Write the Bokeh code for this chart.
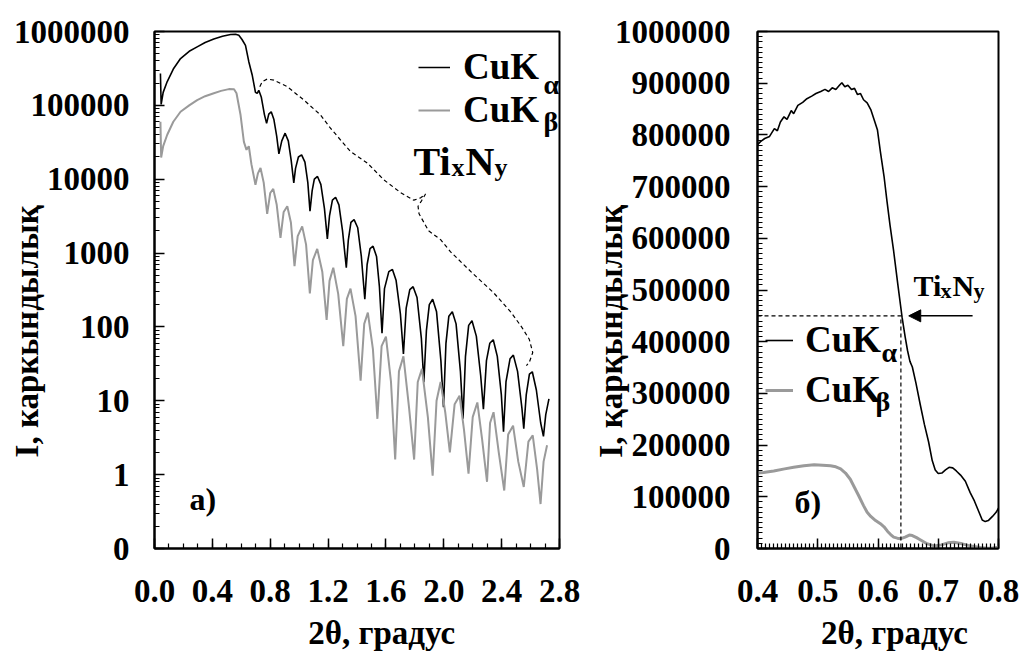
from bokeh.plotting import figure
from bokeh.layouts import row
from bokeh.models import (FixedTicker, SingleIntervalTicker, NumeralTickFormatter, Label,
                          Legend, LegendItem, Arrow, NormalHead)
from bokeh.embed import file_html
from bokeh.resources import INLINE

FONT = "Liberation Serif"
NB = "\u00a0"

# ---------------- left panel data (log scale) ----------------
ka_x = [0.041, 0.046, 0.060, 0.088, 0.13, 0.18, 0.24, 0.295, 0.35, 0.41, 0.47, 0.526, 0.56, 0.583,
        0.605, 0.629, 0.652, 0.675, 0.698, 0.710, 0.721, 0.738, 0.760, 0.775, 0.790, 0.807, 0.825,
        0.845, 0.860, 0.880, 0.903, 0.925, 0.945, 0.963, 0.975, 0.995, 1.017, 1.040, 1.060, 1.075,
        1.090, 1.105, 1.127, 1.150, 1.175, 1.195, 1.210, 1.230, 1.252, 1.275, 1.300, 1.326, 1.340,
        1.358, 1.380, 1.405, 1.430, 1.454, 1.470, 1.490, 1.511, 1.535, 1.555, 1.573, 1.590, 1.620,
        1.645, 1.670, 1.700, 1.721, 1.740, 1.765, 1.788, 1.815, 1.845, 1.862, 1.880, 1.900, 1.923,
        1.950, 1.980, 1.998, 2.015, 2.035, 2.059, 2.085, 2.115, 2.133, 2.150, 2.172, 2.195, 2.225,
        2.255, 2.274, 2.295, 2.318, 2.342, 2.370, 2.398, 2.413, 2.430, 2.458, 2.481, 2.510, 2.540,
        2.553, 2.570, 2.592, 2.612, 2.640, 2.670, 2.689, 2.705, 2.727]
ka_y = [270000, 103000, 150000, 210000, 310000, 430000, 540000, 620000, 710000, 790000, 860000,
        910000, 920000, 890000, 780000, 650000, 390000, 260000, 150000, 145000, 160000, 130000,
        75000, 57000, 76000, 82000, 65000, 38000, 22000, 33000, 42000, 33000, 18000, 8900, 14000,
        20000, 21400, 17000, 9000, 3700, 7000, 10000, 10900, 8500, 4000, 1560, 3200, 5200, 5700,
        4500, 2000, 634, 1500, 2600, 2840, 2200, 900, 237, 700, 1150, 1240, 900, 350, 82, 330,
        560, 601, 430, 150, 43, 180, 320, 351, 250, 70, 17.8, 90, 200, 237, 160, 35, 8.2, 60, 140,
        161, 110, 25, 5.7, 40, 105, 121, 75, 22, 7.7, 35, 60, 67, 40, 12, 3.8, 18, 37, 41.5, 25,
        8, 4.2, 12, 23, 24.7, 14, 5, 3.3, 6.5, 10.6]

kb_x = [0.041, 0.046, 0.060, 0.088, 0.13, 0.18, 0.24, 0.295, 0.35, 0.41, 0.46, 0.514, 0.55, 0.567,
        0.595, 0.618, 0.636, 0.652, 0.670, 0.698, 0.715, 0.733, 0.755, 0.779, 0.800, 0.821, 0.845,
        0.871, 0.893, 0.918, 0.943, 0.968, 0.990, 1.021, 1.048, 1.074, 1.095, 1.125, 1.160, 1.190,
        1.210, 1.236, 1.270, 1.305, 1.330, 1.355, 1.390, 1.425, 1.450, 1.475, 1.510, 1.541, 1.570,
        1.600, 1.635, 1.664, 1.690, 1.721, 1.760, 1.795, 1.820, 1.849, 1.890, 1.923, 1.950, 1.978,
        2.010, 2.042, 2.075, 2.109, 2.140, 2.171, 2.200, 2.232, 2.265, 2.299, 2.320, 2.344, 2.380,
        2.418, 2.445, 2.479, 2.515, 2.553, 2.585, 2.615, 2.645, 2.669, 2.690, 2.714]
kb_y = [60000, 19700, 28000, 40000, 60000, 82000, 100000, 118000, 133000, 146000, 157000, 166000,
        165000, 146000, 74000, 32000, 25000, 28000, 16000, 8400, 12000, 14200, 9000, 3400, 6500,
        7400, 4500, 1600, 3600, 4300, 2600, 665, 1700, 2300, 1300, 285, 800, 1140, 560, 124, 420,
        634, 280, 55, 240, 330, 140, 18.7, 110, 156, 50, 5.7, 55, 74, 18, 1.6, 25, 40, 8, 1.6, 18,
        27, 6, 0.97, 10, 18, 7, 2.0, 9, 11.7, 4, 1.03, 6, 9.5, 3, 0.8, 5, 7, 2, 0.61, 3.5, 4.6,
        1.5, 0.68, 2.8, 3.4, 1.2, 0.4, 1.5, 2.5]

tixny_x = [0.728, 0.745, 0.779, 0.825, 0.918, 1.033, 1.148, 1.217, 1.355, 1.471, 1.586, 1.701,
           1.793, 1.840, 1.874, 1.846, 1.822, 1.829, 1.895, 1.978, 2.047, 2.195, 2.344, 2.467,
           2.541, 2.591, 2.615, 2.591, 2.571]
tixny_y = [179000, 209000, 227000, 220000, 179000, 118000, 74000, 49000, 23700, 16600, 9800, 6600,
           5200, 5600, 6300, 5100, 4300, 3400, 2000, 1520, 1040, 542, 291, 156, 98, 68, 45, 33, 30]

left_yticks = [0.1, 1, 10, 100, 1000, 10000, 100000, 1000000]
left_xticks = [0.0, 0.4, 0.8, 1.2, 1.6, 2.0, 2.4, 2.8]

# ---------------- right panel data (linear scale) ----------------
ra_x = [0.400, 0.405, 0.412, 0.420, 0.428, 0.433, 0.438, 0.444, 0.449, 0.456, 0.460, 0.467, 0.475,
        0.482, 0.490, 0.497, 0.505, 0.512, 0.518, 0.524, 0.530, 0.536, 0.540, 0.545, 0.550, 0.556,
        0.561, 0.566, 0.571, 0.576, 0.582, 0.588, 0.594, 0.599, 0.604, 0.610, 0.615, 0.620, 0.626,
        0.633, 0.640, 0.645, 0.649, 0.653, 0.657, 0.663, 0.670, 0.677, 0.684, 0.690, 0.695, 0.700,
        0.706, 0.712, 0.718, 0.724, 0.730, 0.737, 0.745, 0.753, 0.760, 0.766, 0.773, 0.778, 0.783,
        0.790, 0.796, 0.800]
ra_y = [781000, 787000, 793000, 797000, 812000, 808000, 825000, 835000, 830000, 847000, 841000,
        857000, 863000, 870000, 875000, 880000, 884000, 888000, 884000, 891000, 888000, 896000,
        901000, 893000, 896000, 888000, 890000, 878000, 880000, 868000, 862000, 849000, 828000,
        810000, 767000, 720000, 671000, 625000, 575000, 510000, 447000, 410000, 383000, 362000,
        351000, 320000, 279000, 240000, 206000, 170000, 152000, 145000, 146000, 152000, 157000,
        156000, 150000, 142000, 130000, 108000, 92000, 75000, 55000, 52000, 54000, 62000, 70000,
        78000]
rb_x = [0.400, 0.410, 0.427, 0.445, 0.460, 0.477, 0.494, 0.508, 0.521, 0.530, 0.538, 0.546, 0.554,
        0.561, 0.568, 0.576, 0.582, 0.588, 0.596, 0.604, 0.610, 0.616, 0.621, 0.626, 0.632, 0.638,
        0.645, 0.652, 0.657, 0.664, 0.670, 0.680, 0.693, 0.705, 0.716, 0.726, 0.740, 0.750, 0.759,
        0.770, 0.781, 0.790, 0.800]
rb_y = [146000, 147000, 150000, 154000, 157000, 160000, 162000, 161000, 160000, 158000, 154000,
        146000, 134000, 118000, 102000, 83000, 70000, 62000, 54000, 48000, 42000, 33000, 27000,
        22000, 20000, 19000, 22000, 26000, 25000, 21000, 17000, 10000, 5000, 7000, 11000, 12000,
        9000, 6000, 4000, 2000, 500, 1000, 2500]

ref_x = 0.638      # TixNy position read on the curve
ref_y = 450000
arrow_from = 0.757
arrow_to = 0.651

X_TITLE = "2θ, градус"
LIFT = 10  # px correction for label baseline
BLACK = "black"
GRAY = "#9a9a9a"


def style_axes(p):
    for ax in (p.xaxis[0], p.yaxis[0]):
        ax.axis_line_width = 2
        ax.axis_line_color = "black"
        ax.major_tick_in = 10
        ax.major_tick_out = 0
        ax.minor_tick_in = 5
        ax.minor_tick_out = 0
        ax.major_tick_line_width = 1.5
        ax.minor_tick_line_width = 1.2
        ax.major_tick_line_color = "black"
        ax.minor_tick_line_color = "black"
        ax.major_label_text_font = FONT
        ax.major_label_text_font_style = "bold"
        ax.major_label_text_font_size = "33px"
        ax.major_label_text_color = "black"
        ax.axis_label_text_font = FONT
        ax.axis_label_text_font_style = "bold"
        ax.axis_label_text_font_size = "33px"
        ax.axis_label_text_color = "black"
    p.xgrid.visible = False
    p.ygrid.visible = False
    p.outline_line_color = "black"
    p.outline_line_width = 2
    p.outline_line_alpha = 1


def put(p, x, y, text, size, dx=0, dy=0):
    p.add_layout(Label(x=x, y=y, x_offset=dx, y_offset=dy + LIFT, text=text, text_font=FONT,
                       text_font_style="bold", text_font_size=f"{size}px", text_color="black",
                       text_baseline="alphabetic", text_align="left"))


def make_legend(r1, r2, loc, spacing, gw, standoff):
    return Legend(items=[LegendItem(label="CuK", renderers=[r1]),
                         LegendItem(label="CuK", renderers=[r2])],
                  location=loc, padding=0, margin=0, spacing=spacing, glyph_width=gw,
                  label_standoff=standoff, border_line_alpha=0, background_fill_alpha=0,
                  label_text_font=FONT, label_text_font_style="bold",
                  label_text_font_size="37px", label_text_color="black")


# ---------------- left figure ----------------
p1 = figure(width=588, height=653, x_range=(0, 2.8), y_range=(0.1, 1e6), y_axis_type="log",
            output_backend="svg", toolbar_location=None, min_border_left=154,
            min_border_right=29, min_border_top=31, min_border_bottom=103)
style_axes(p1)
p1.yaxis.ticker = FixedTicker(ticks=left_yticks,
                              minor_ticks=[m * t for t in left_yticks[:-1] for m in range(2, 10)])
p1.yaxis.formatter = NumeralTickFormatter(format="0")
p1.xaxis.ticker = FixedTicker(ticks=left_xticks, minor_ticks=[i / 10 for i in range(29)])
p1.xaxis.formatter = NumeralTickFormatter(format="0.0")
p1.yaxis.major_label_standoff = 25
p1.yaxis.axis_label = "I, каркындылық" + NB * 10
p1.yaxis.axis_label_standoff = -34
p1.xaxis.major_label_standoff = 31
p1.xaxis.axis_label = NB * 6 + X_TITLE
p1.xaxis.axis_label_standoff = 10

ra1 = p1.line(ka_x, ka_y, line_color=BLACK, line_width=1.6)
rb1 = p1.line(kb_x, kb_y, line_color=GRAY, line_width=2)
p1.line(tixny_x, tixny_y, line_color=BLACK, line_width=1.2, line_dash="4 3")

p1.add_layout(make_legend(ra1, rb1, (264, 417), -6, 32, 13))
put(p1, 2.690, 1.77e5, "α", 28, dy=-7)
put(p1, 2.690, 4.96e4, "β", 28, dy=-4)

put(p1, 1.791, 10470, "Ti", 40, dy=6)
put(p1, 1.791, 10470, "x", 26, dx=38, dy=0)
put(p1, 1.791, 10470, "N", 40, dx=52, dy=6)
put(p1, 1.791, 10470, "y", 26, dx=81, dy=0)
put(p1, 0.242, 0.347, "а)", 32)

# ---------------- right figure ----------------
p2 = figure(width=433, height=653, x_range=(0.4, 0.8), y_range=(0, 1e6),
            output_backend="svg", toolbar_location=None, min_border_left=169,
            min_border_right=23, min_border_top=29, min_border_bottom=104)
style_axes(p2)
p2.yaxis.ticker = SingleIntervalTicker(interval=100000, num_minor_ticks=10)
p2.yaxis.formatter = NumeralTickFormatter(format="0")
p2.xaxis.ticker = SingleIntervalTicker(interval=0.1, num_minor_ticks=15)
p2.xaxis.formatter = NumeralTickFormatter(format="0.0")
p2.yaxis.major_label_standoff = 27
p2.yaxis.axis_label = "I, қарқындылық" + NB * 10
p2.yaxis.axis_label_standoff = -17
p2.xaxis.major_label_standoff = 31
p2.xaxis.axis_label = NB * 4 + X_TITLE
p2.xaxis.axis_label_standoff = 10

ra2 = p2.line(ra_x, ra_y, line_color=BLACK, line_width=1.6)
rb2 = p2.line(rb_x, rb_y, line_color=GRAY, line_width=3)
p2.line([0.4, ref_x, ref_x], [ref_y, ref_y, 0], line_color=BLACK, line_width=1.2,
        line_dash="4 3")
p2.add_layout(Arrow(end=NormalHead(size=12, fill_color="black", line_color="black"),
                    x_start=arrow_from, y_start=ref_y, x_end=arrow_to, y_end=ref_y,
                    line_color="black", line_width=1.5))

p2.add_layout(make_legend(ra2, rb2, (8, 137), 7, 28, 12))
put(p2, 0.6060, 378850, "α", 28, dy=-10)
put(p2, 0.5959, 278850, "β", 28, dy=-7)

put(p2, 0.659, 488460, "Ti", 30)
put(p2, 0.659, 488460, "x", 22, dx=27, dy=-5)
put(p2, 0.659, 488460, "N", 30, dx=39)
put(p2, 0.659, 488460, "y", 22, dx=60, dy=-5)
put(p2, 0.4614, 71150, "б)", 32)

layout = row(p1, p2)
open("out.html", "w").write(file_html(layout, INLINE))
